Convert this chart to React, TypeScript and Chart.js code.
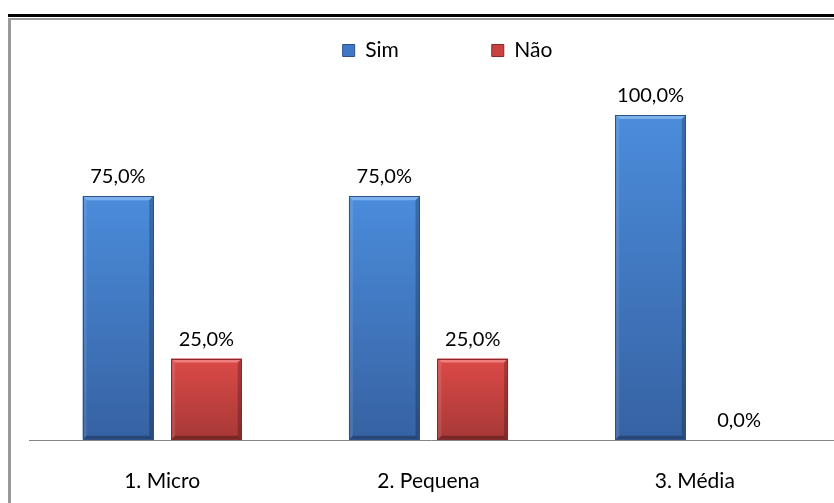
import React, { useEffect, useRef } from "react";
import { Chart, registerables } from "chart.js";

Chart.register(...registerables);

const categories = ["1. Micro", "2. Pequena", "3. Média"];
const seriesNames = ["Sim", "Não"];
const simValues = [0.75, 0.75, 1.0];
const naoValues = [0.25, 0.25, 0.0];

const FONT = "Lato, 'Open Sans', 'DejaVu Sans', sans-serif";

const styles = [
  { top: "#4b8cdb", bottom: "#3662a2", edge: "#2d5289", legend: "#3f78c4", light: "#86b7f0" },
  { top: "#db4a48", bottom: "#a63836", edge: "#86292a", legend: "#c84240", light: "#f08a88" },
];

function formatPct(v: number) {
  return (v * 100).toFixed(1).replace(".", ",") + "%";
}

export default function App() {
  const ref = useRef<HTMLCanvasElement>(null);

  useEffect(() => {
    if (!ref.current) return;

    const gradientFor = (si: number) => (ctx: any) => {
      const chart = ctx.chart;
      const y = chart.scales?.y;
      const st = styles[si];
      if (!y || ctx.raw == null) return st.top;
      const top = y.getPixelForValue(ctx.raw);
      const base = y.getPixelForValue(0);
      if (!isFinite(top) || !isFinite(base) || base - top < 1) return st.top;
      const g = chart.ctx.createLinearGradient(0, top, 0, base);
      g.addColorStop(0, st.top);
      g.addColorStop(1, st.bottom);
      return g;
    };

    const legendSpacer = {
      id: "legendSpacer",
      beforeLayout(chart: any) {
        const lg = chart.legend;
        if (lg && !lg.__patched) {
          const orig = lg.fit.bind(lg);
          lg.fit = function () {
            orig();
            this.height = 168;
          };
          lg.__patched = true;
        }
      },
      afterLayout(chart: any) {
        const lg = chart.legend;
        if (lg) {
          lg.left += 19;
          lg.right += 19;
        }
      },
    };

    const baseline = {
      id: "baseline",
      beforeDatasetsDraw(chart: any) {
        const { ctx, chartArea } = chart;
        const y = Math.round(chart.scales.y.getPixelForValue(0)) + 0.5;
        ctx.save();
        ctx.strokeStyle = "#868686";
        ctx.lineWidth = 1;
        ctx.beginPath();
        ctx.moveTo(chartArea.left, y);
        ctx.lineTo(chart.width, y);
        ctx.stroke();
        ctx.restore();
      },
    };

    const bevel = {
      id: "bevel",
      afterDatasetsDraw(chart: any) {
        const ctx = chart.ctx;
        ctx.save();
        chart.data.datasets.forEach((ds: any, di: number) => {
          const meta = chart.getDatasetMeta(di);
          const st = styles[di];
          meta.data.forEach((el: any) => {
            const { x, y, base, width } = el.getProps(["x", "y", "base", "width"], true);
            if (base - y < 2) return;
            const l = x - width / 2;
            const r = x + width / 2;
            const b = 4;
            ctx.globalAlpha = 0.85;
            ctx.fillStyle = st.light;
            ctx.beginPath();
            ctx.moveTo(l, y);
            ctx.lineTo(r, y);
            ctx.lineTo(r - b, y + b);
            ctx.lineTo(l + b, y + b);
            ctx.closePath();
            ctx.fill();
            ctx.globalAlpha = 1;
            ctx.fillStyle = "rgba(255,255,255,0.10)";
            ctx.beginPath();
            ctx.moveTo(l, y);
            ctx.lineTo(l + b, y + b);
            ctx.lineTo(l + b, base - b);
            ctx.lineTo(l, base);
            ctx.closePath();
            ctx.fill();
            ctx.fillStyle = "rgba(0,0,0,0.22)";
            ctx.beginPath();
            ctx.moveTo(r, y);
            ctx.lineTo(r - b, y + b);
            ctx.lineTo(r - b, base - b);
            ctx.lineTo(r, base);
            ctx.closePath();
            ctx.fill();
            ctx.fillStyle = "rgba(0,0,0,0.28)";
            ctx.beginPath();
            ctx.moveTo(l, base);
            ctx.lineTo(l + b, base - b);
            ctx.lineTo(r - b, base - b);
            ctx.lineTo(r, base);
            ctx.closePath();
            ctx.fill();
            ctx.strokeStyle = st.edge;
            ctx.lineWidth = 1;
            ctx.strokeRect(Math.round(l) + 0.5, Math.round(y) + 0.5, Math.round(width) - 1, Math.round(base - y) - 1);
          });
        });
        ctx.restore();
      },
    };

    const dataLabels = {
      id: "dataLabels",
      afterDatasetsDraw(chart: any) {
        const ctx = chart.ctx;
        ctx.save();
        ctx.font = `20px ${FONT}`;
        ctx.fillStyle = "#000";
        ctx.textAlign = "center";
        ctx.textBaseline = "alphabetic";
        chart.data.datasets.forEach((ds: any, di: number) => {
          const meta = chart.getDatasetMeta(di);
          meta.data.forEach((el: any, i: number) => {
            const v = ds.data[i];
            ctx.fillText(formatPct(v), el.x, el.y - 13);
          });
        });
        ctx.restore();
      },
    };

    const chart = new Chart(ref.current, {
      type: "bar",
      data: {
        labels: categories,
        datasets: [
          {
            label: seriesNames[0],
            data: simValues,
            backgroundColor: gradientFor(0),
            borderWidth: 0,
            categoryPercentage: 0.665,
            barPercentage: 0.797,
          },
          {
            label: seriesNames[1],
            data: naoValues,
            backgroundColor: gradientFor(1),
            borderWidth: 0,
            categoryPercentage: 0.665,
            barPercentage: 0.797,
          },
        ],
      },
      options: {
        responsive: false,
        animation: false,
        devicePixelRatio: 1,
        layout: { padding: { top: -53, left: 29, right: 6, bottom: -20 } },
        scales: {
          x: {
            grid: { display: false, drawTicks: false },
            border: { display: false },
            ticks: { padding: 29, color: "#000", font: { family: FONT, size: 21 } },
          },
          y: { display: false, min: 0, max: 1 },
        },
        plugins: {
          tooltip: { enabled: false },
          legend: {
            position: "top",
            labels: {
              padding: 93,
              boxWidth: 12,
              boxHeight: 12,
              color: "#000",
              font: { family: FONT, size: 21 },
              generateLabels(chart: any) {
                const items = Chart.defaults.plugins.legend.labels.generateLabels(chart);
                return items.map((it: any, i: number) => ({
                  ...it,
                  fillStyle: styles[i].legend,
                  strokeStyle: styles[i].edge,
                  lineWidth: 1,
                }));
              },
            },
          },
        },
      },
      plugins: [legendSpacer, baseline, bevel, dataLabels],
    });

    return () => chart.destroy();
  }, []);

  return (
    <div
      style={{
        position: "fixed",
        left: 0,
        top: 0,
        width: 834,
        height: 503,
        background: "#fff",
        overflow: "hidden",
      }}
    >
      <div style={{ position: "absolute", left: 8, top: 14, right: 0, height: 3, background: "#000" }} />
      <div
        style={{
          position: "absolute",
          left: 8,
          top: 18,
          width: 900,
          height: 600,
          borderLeft: "3px solid #999",
          borderTop: "2px solid #999",
        }}
      />
      <canvas
        ref={ref}
        width={834}
        height={503}
        style={{ position: "absolute", left: 0, top: 0, width: 834, height: 503 }}
      />
    </div>
  );
}
